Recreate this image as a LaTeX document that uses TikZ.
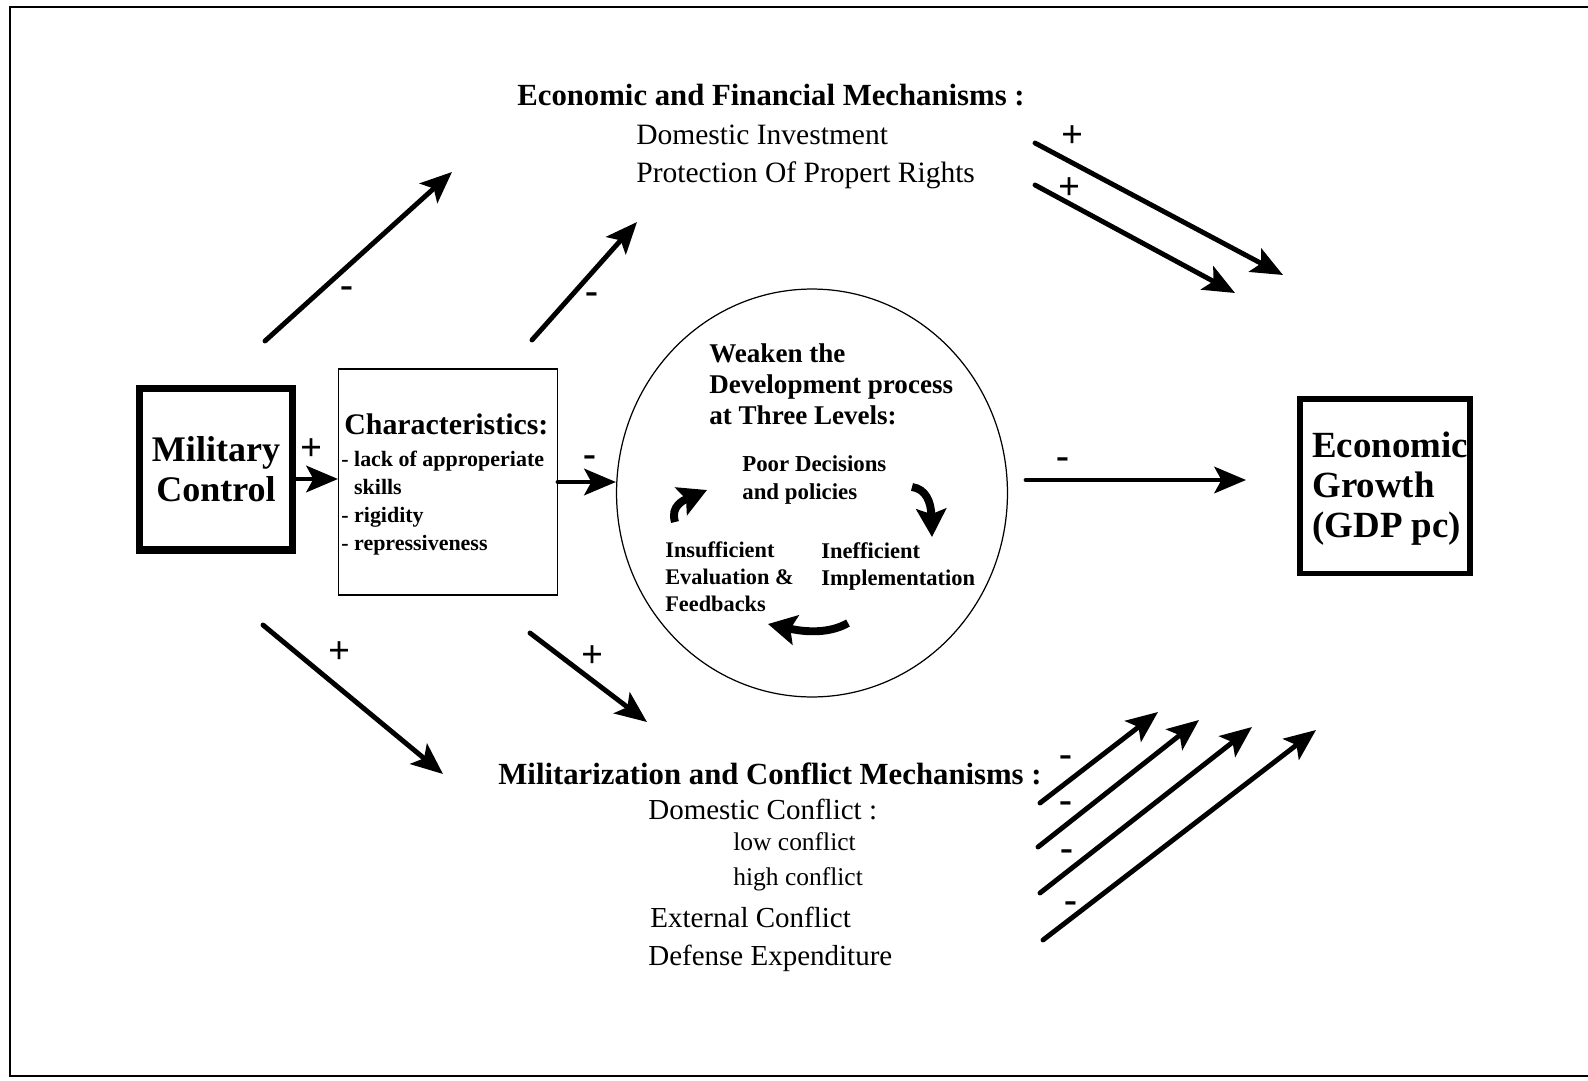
\documentclass[tikz,border=0pt]{standalone}
\usepackage{fontspec}
\setmainfont{Liberation Serif}
\usetikzlibrary{arrows.meta,shapes.geometric}

\tikzset{
  arr/.style={line width=2.8pt, line cap=round, -{Stealth[length=18pt,width=15pt,inset=4pt]}},
  turn/.style={line width=4.5pt, -{Stealth[length=16pt,width=17pt,inset=3pt]}},
  sign/.style={inner sep=0pt, font=\fontsize{22}{22}\selectfont\bfseries},
  txt/.style={inner sep=0pt, anchor=north west, align=left},
  head/.style={inner sep=0pt, anchor=north, font=\fontsize{17.5}{20}\selectfont\bfseries},
}
\newcommand{\fs}[2]{\fontsize{#1}{#2}\selectfont}

\begin{document}
\begin{tikzpicture}[x=0.02cm, y=-0.02cm]
    \useasboundingbox (0,0) rectangle (1588,1081);
    \draw[line width=1.6pt] (1588,7) -- (10,7) -- (10,1076) -- (1588,1076);

    % boxes and circle
    \node[draw, line width=4pt, minimum width=3.06cm, minimum height=3.24cm, align=center,
          font=\fs{20.5}{22.7}\bfseries] (mil) at (216,469) {Military\\Control};
    \node[draw, line width=0.6pt, minimum width=4.38cm, minimum height=4.52cm] (chars) at (448,482) {};
    \node[draw, line width=3.4pt, minimum width=3.4cm, minimum height=3.5cm] (growth) at (1385,486) {};
    \node[draw, ellipse, line width=0.7pt, inner sep=0pt, minimum width=7.82cm, minimum height=8.16cm] (dev) at (812,493) {};

    % texts
    \node[head] (econHead) at (771,84) {Economic and Financial Mechanisms :};
    \node[txt, font=\fs{16.8}{21.5}] (econList) at (636,125) {Domestic Investment\\Protection Of Propert Rights};
    \node[txt, font=\fs{17}{20}\bfseries] (charsHead) at (344,413) {Characteristics:};
    \node[txt, font=\fs{12.5}{15.9}\bfseries] (charsList) at (341,451)
        {- lack of approperiate\\\phantom{- }skills\\- rigidity\\- repressiveness};
    \node[inner sep=0pt, anchor=west, align=left, font=\fs{21}{22.7}\bfseries] (growthTxt) at (1312,489)
        {Economic\\Growth\\(GDP pc)};
    \node[txt, font=\fs{15.4}{17.8}\bfseries] (weaken) at (709,343) {Weaken the\\Development process\\at Three Levels:};
    \node[txt, font=\fs{13}{16}\bfseries] (poor) at (742,455) {Poor Decisions\\and policies};
    \node[txt, font=\fs{12.7}{15.5}\bfseries] (insuff) at (665,541) {Insufficient\\Evaluation \&\\Feedbacks};
    \node[txt, font=\fs{12.8}{15.8}\bfseries] (ineff) at (821,542) {Inefficient\\Implementation};
    \node[head] (milHead) at (770,762) {Militarization and Conflict Mechanisms :};
    \node[txt, font=\fs{16.5}{20}] (domConf) at (648,799) {Domestic Conflict :};
    \node[txt, font=\fs{14.5}{17}] (lowConf) at (733,832) {low conflict};
    \node[txt, font=\fs{14.5}{17}] (highConf) at (733,867) {high conflict};
    \node[txt, font=\fs{16.5}{20}] (extConf) at (650,907) {External Conflict};
    \node[txt, font=\fs{16.5}{20}] (defExp) at (648,945) {Defense Expenditure};

    % arrow ends
    \coordinate (up1a) at (265,341);  \coordinate (up1b) at (452,172);
    \coordinate (up2a) at (532,340);  \coordinate (up2b) at (637,222);
    \coordinate (gr1a) at (1035,143); \coordinate (gr1b) at (1283,275);
    \coordinate (gr2a) at (1035,185); \coordinate (gr2b) at (1235,293);
    \coordinate (dn1a) at (263,625);  \coordinate (dn1b) at (443,774);
    \coordinate (dn2a) at (530,633);  \coordinate (dn2b) at (647,722);
    \coordinate (mc1a) at (1040,803); \coordinate (mc1b) at (1158,712);
    \coordinate (mc2a) at (1038,847); \coordinate (mc2b) at (1199,720);
    \coordinate (mc3a) at (1040,893); \coordinate (mc3b) at (1252,727);
    \coordinate (mc4a) at (1043,940); \coordinate (mc4b) at (1316,730);
    \coordinate (midrow) at (0,480);

    % arrows
    \draw[arr] (up1a) -- (up1b);
    \draw[arr] (up2a) -- (up2b);
    \draw[arr] (gr1a) -- (gr1b);
    \draw[arr] (gr2a) -- (gr2b);
    \draw[arr] ([yshift=-0.2cm]mil.east) -- ([yshift=-0.2cm]mil.east -| chars.west);
    \draw[arr] (chars.east) -- (dev.west |- chars.east);
    \draw[arr, shorten <=0.36cm, shorten >=1.02cm] (dev.east |- midrow) -- (growth.west |- midrow);
    \draw[arr] (dn1a) -- (dn1b);
    \draw[arr] (dn2a) -- (dn2b);
    \draw[arr] (mc1a) -- (mc1b);
    \draw[arr] (mc2a) -- (mc2b);
    \draw[arr] (mc3a) -- (mc3b);
    \draw[arr] (mc4a) -- (mc4b);

    % the three turning arrows
    \draw[turn] (675,522) .. controls (670,506) and (684,500) .. (707,490);
    \draw[turn] (912,487) .. controls (926,489) and (931,502) .. (932,537);
    \draw[turn] (848,623) .. controls (834,631) and (814,634) .. (768,624);

    % signs
    \node[sign] (sg1) at (347,292) {-};
    \node[sign] (sg2) at (592,298) {-};
    \node[sign] (sg3) at (1072,137) {+};
    \node[sign] (sg4) at (1069,189) {+};
    \node[sign] (sg5) at (312,450) {+};
    \node[sign] (sg6) at (590,461) {-};
    \node[sign] (sg7) at (1063,463) {-};
    \node[sign] (sg8) at (340,653) {+};
    \node[sign] (sg9) at (593,657) {+};
    \node[sign] (sg10) at (1066,761) {-};
    \node[sign] (sg11) at (1066,807) {-};
    \node[sign] (sg12) at (1067,855) {-};
    \node[sign] (sg13) at (1071,907) {-};
\end{tikzpicture}
\end{document}
